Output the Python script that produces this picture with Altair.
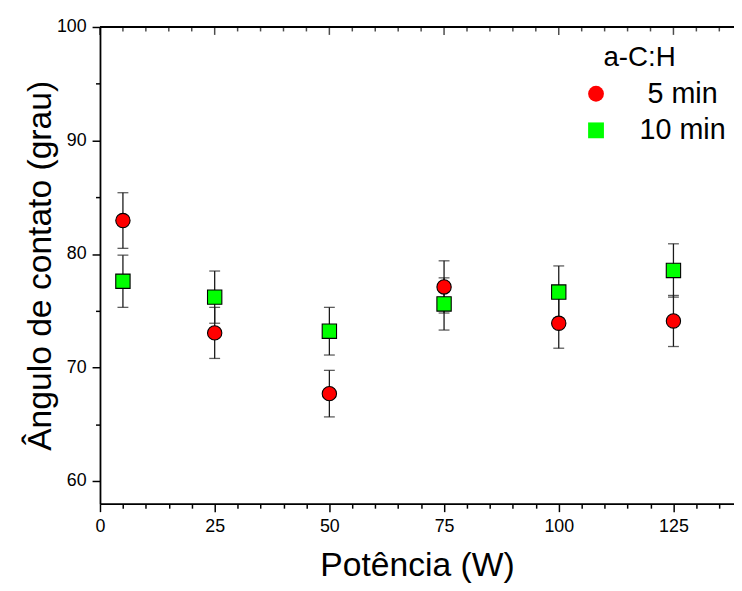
import altair as alt
import pandas as pd

# ---- data ----
power = [5, 25, 50, 75, 100, 125]
angle_5min = [82.95, 73.05, 67.7, 77.1, 73.9, 74.1]
err_5min = [2.45, 2.25, 2.05, 2.3, 2.2, 2.25]
angle_10min = [77.6, 76.2, 73.2, 75.6, 76.65, 78.55]
err_10min = [2.3, 2.3, 2.1, 2.3, 2.3, 2.35]
series = ["5 min", "10 min"]
series_colors = ["#ff0000", "#00ff00"]
series_shapes = ["circle", "square"]
x_domain = [0, 138.2]
y_domain = [58, 100]
x_ticks = list(range(0, 136, 5))
y_ticks = list(range(60, 101, 5))
x_major = [v for v in x_ticks if v % 25 == 0]
x_minor = [v for v in x_ticks if v % 25 != 0]

rows = []
for s, ang, err in [(series[0], angle_5min, err_5min), (series[1], angle_10min, err_10min)]:
    for p, a, e in zip(power, ang, err):
        rows.append({"power": p, "angle": a, "lo": a - e, "hi": a + e, "series": s})
df = pd.DataFrame(rows)
top_df = pd.DataFrame({"ymax": [y_domain[1]]})
top_major_df = pd.DataFrame({"x": x_major, "y": [y_domain[1]] * len(x_major)})
top_minor_df = pd.DataFrame({"x": x_minor, "y": [y_domain[1]] * len(x_minor)})

FONT = "Liberation Sans"
xscale = alt.Scale(domain=x_domain, nice=False, zero=False)
yscale = alt.Scale(domain=y_domain, nice=False, zero=False)

x_axis = alt.Axis(
    values=x_ticks,
    labelExpr="datum.value % 25 === 0 ? datum.label : ''",
    tickSize={"condition": {"test": "datum.value % 25 === 0", "value": 8}, "value": 4.5},
    labelOverlap=False, labelFlush=False,
    title="Potência (W)", titleFont=FONT, titleFontSize=34, titleFontWeight="normal",
    titleColor="black", titleBaseline="alphabetic", titleY=73,
    labelFont=FONT, labelFontSize=18, labelColor="black", labelPadding=6,
    domainColor="black", domainWidth=1.8, tickColor="black", tickWidth=1.5, grid=False,
)
y_axis = alt.Axis(
    values=y_ticks,
    labelExpr="datum.value % 10 === 0 ? datum.label : ''",
    tickSize={"condition": {"test": "datum.value % 10 === 0", "value": 8}, "value": 4.5},
    labelOverlap=False, labelFlush=False,
    title="Ângulo de contato (grau)", titleFont=FONT, titleFontSize=34, titleFontWeight="normal",
    titleColor="black", titleBaseline="alphabetic", titleX=-50, titleAngle=270,
    labelFont=FONT, labelFontSize=18, labelColor="black", labelPadding=6,
    domainColor="black", domainWidth=1.8, tickColor="black", tickWidth=1.5, grid=False,
)

legend = alt.Legend(
    orient="none", legendX=509, legendY=17, direction="vertical",
    title="a-C:H", titleFont=FONT, titleFontSize=28, titleFontWeight="normal",
    titleColor="black", titlePadding=8,
    labelFont=FONT, labelFontSize=29, labelColor="black", labelAlign="center", labelOffset=73,
    symbolSize=256, symbolStrokeColor="black", symbolStrokeWidth=1, symbolOpacity=1,
    symbolOffset=-22, rowPadding=7, padding=0,
)

base = alt.Chart(df)
X = alt.X("power:Q", scale=xscale, axis=None)

bars = base.mark_rule(color="#1a1a1a", strokeWidth=1.3).encode(
    x=X, y=alt.Y("lo:Q", scale=yscale, axis=None), y2="hi:Q")
caps_lo = base.mark_tick(orient="horizontal", size=11, thickness=1.3, color="#1a1a1a").encode(
    x=X, y=alt.Y("lo:Q", scale=yscale, axis=None))
caps_hi = base.mark_tick(orient="horizontal", size=11, thickness=1.3, color="#1a1a1a").encode(
    x=X, y=alt.Y("hi:Q", scale=yscale, axis=None))

points = base.mark_point(filled=True, size=210, strokeWidth=1.1, opacity=1, fillOpacity=1).encode(
    x=alt.X("power:Q", scale=xscale, axis=x_axis),
    y=alt.Y("angle:Q", scale=yscale, axis=y_axis),
    fill=alt.Fill("series:N", scale=alt.Scale(domain=series, range=series_colors), legend=legend),
    shape=alt.Shape("series:N", scale=alt.Scale(domain=series, range=series_shapes), legend=legend),
    stroke=alt.value("black"),
)

# inward ticks on the top frame
top_major = alt.Chart(top_major_df).mark_tick(
    orient="vertical", size=8, thickness=1.5, color="black", yOffset=4).encode(
    x=alt.X("x:Q", scale=xscale, axis=None), y=alt.Y("y:Q", scale=yscale, axis=None))
top_minor = alt.Chart(top_minor_df).mark_tick(
    orient="vertical", size=4.5, thickness=1.5, color="black", yOffset=2.25).encode(
    x=alt.X("x:Q", scale=xscale, axis=None), y=alt.Y("y:Q", scale=yscale, axis=None))
top_line = alt.Chart(top_df).mark_rule(color="black", strokeWidth=1.8).encode(
    y=alt.Y("ymax:Q", scale=yscale, axis=None))

chart = alt.layer(bars, caps_lo, caps_hi, points, top_major, top_minor, top_line).resolve_axis(
    x="independent", y="independent"
).properties(
    width=641, height=482, autosize="none",
    padding={"left": 93, "top": 16, "right": 0, "bottom": 82},
).configure_view(strokeOpacity=0).configure(background="white")

chart.save("out.html", embed_options={"renderer": "svg", "actions": False})
